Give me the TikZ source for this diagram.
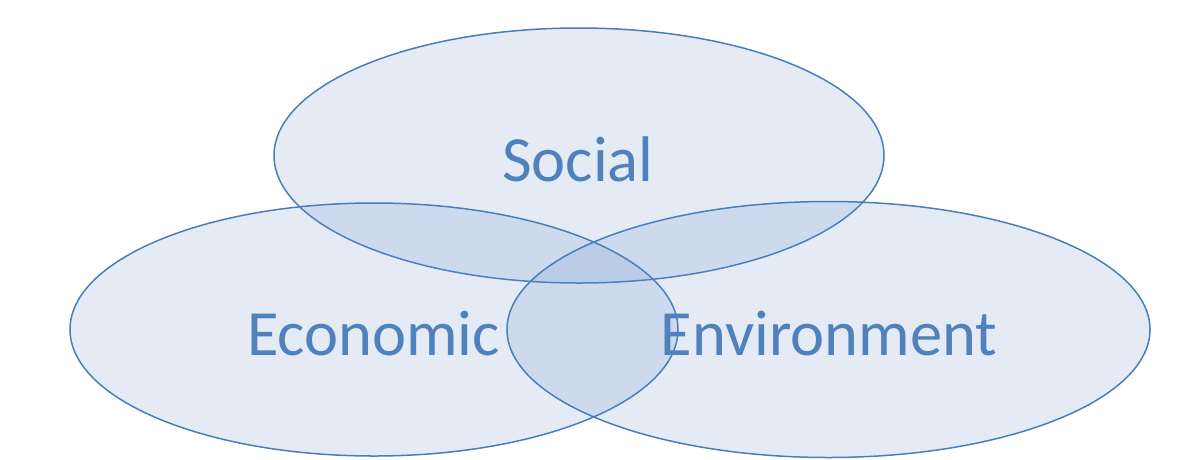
\documentclass[tikz,border=0pt]{standalone}
\usepackage{fontspec}
\setmainfont{Carlito}
\definecolor{edge}{HTML}{4A7EBB}
\definecolor{fillc}{HTML}{5B86C5}
\definecolor{txt}{HTML}{4F81BD}
\begin{document}
\begin{tikzpicture}[x=1pt,y=-1pt,
  set/.style={draw=edge,line width=1.5pt,fill=fillc,fill opacity=0.16},
  lbl/.style={text=txt,font=\fontsize{64.5}{72}\selectfont,inner sep=0pt}]
\useasboundingbox (0,0) rectangle (1203,459);
\fill[white] (0,0) rectangle (1203,459);
\path[set] (579,155.5) ellipse[x radius=305,y radius=127.5];
\path[set] (374,329.5) ellipse[x radius=304,y radius=126.5];
\path[set] (828.5,329.5) ellipse[x radius=321.5,y radius=128];
\node[lbl] (social) at (578,159) {Social};
\node[lbl] (econ) at (373.5,334) {Economic};
\node[lbl] (env) at (829,334) {Environment};
\end{tikzpicture}
\end{document}
